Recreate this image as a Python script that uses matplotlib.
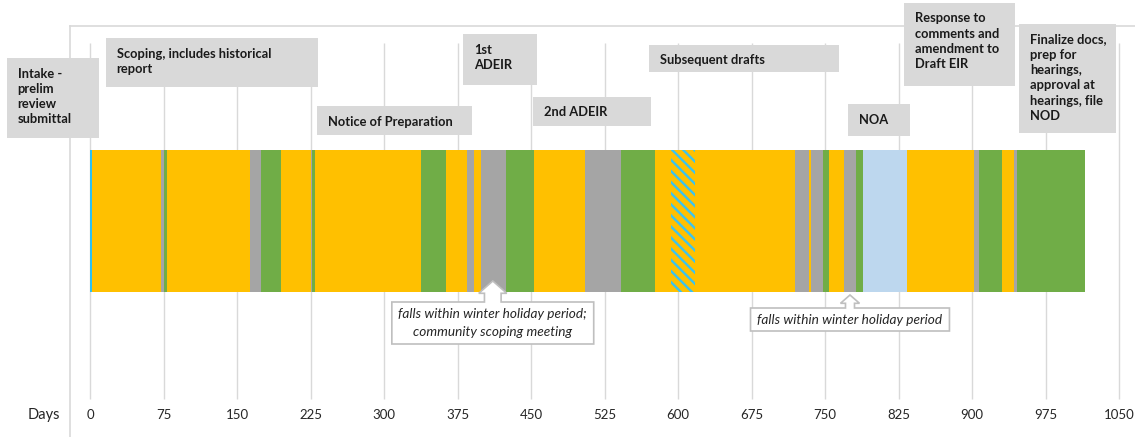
import matplotlib.pyplot as plt
from matplotlib.patches import Rectangle, Polygon

plt.rcParams['font.family'] = ['Lato', 'DejaVu Sans']
plt.rcParams['hatch.linewidth'] = 1.7

# phases of the EIR schedule, left to right, lengths in days
durations = [2, 70, 4, 3, 84, 11, 21, 30, 2, 3, 108, 25, 22, 7, 7, 25, 29, 52,
             37, 35, 16, 24, 102, 15, 2, 12, 6, 15, 13, 7, 45, 68, 5, 24, 12, 3, 69]
kinds = ['submit', 'prep', 'review', 'revise', 'prep', 'review', 'revise', 'prep',
         'review', 'revise', 'prep', 'revise', 'prep', 'review', 'prep', 'review',
         'revise', 'prep', 'review', 'revise', 'prep', 'holiday', 'prep', 'review',
         'prep', 'review', 'revise', 'prep', 'review', 'revise', 'notice', 'prep',
         'review', 'revise', 'prep', 'review', 'revise']
day_ticks = list(range(0, 1051, 75))

# milestone captions: text, left day, right day, top row, bottom row
milestones = [
    ('Intake -\nprelim\nreview\nsubmittal', -85, 9, 58, 138),
    ('Scoping, includes historical\nreport', 16, 233, 38, 87),
    ('Notice of Preparation', 232, 390, 106, 135),
    ('1st\nADEIR', 381, 456, 34, 85),
    ('2nd ADEIR', 452, 572, 97, 126),
    ('Subsequent drafts', 570, 764, 45, 72),
    ('NOA', 773, 837, 104, 136),
    ('Response to\ncomments and\namendment to\nDraft EIR', 831, 944, 3, 86),
    ('Finalize docs,\nprep for\nhearings,\napproval at\nhearings, file\nNOD', 948, 1047, 24, 133),
]

# notes under the bar: text, arrow day, box left, box right, box top, box bottom
notes = [
    ('falls within winter holiday period;\ncommunity scoping meeting', 411, 308, 514, 302, 344),
    ('falls within winter holiday period', 775.5, 674, 877, 308, 331),
]

colors = {'submit': '#2CC1F2', 'prep': '#FFC000', 'review': '#A5A5A5',
          'revise': '#70AD47', 'notice': '#BDD7EE', 'holiday': '#FFC000'}

W, H = 1135, 437
X0, PPD = 90, 0.98   # pixel of day 0, pixels per day

fig = plt.figure(figsize=(W / 100, H / 100), dpi=100)
ax = fig.add_axes([0, 0, 1, 1])
ax.set_xlim(-X0 / PPD, (W - X0) / PPD)
ax.set_ylim(H, 0)
ax.axis('off')

grid = '#D9D9D9'
ax.vlines(day_ticks, 43, 399, color=grid, lw=1, zorder=1)
left = (70 - X0) / PPD
ax.plot([left, left], [26, H], color=grid, lw=1.2, zorder=1)
ax.plot([left, (W - X0) / PPD], [26, 26], color=grid, lw=1.2, zorder=1)

# stacked timeline bar
start = 0
for d, k in zip(durations, kinds):
    if k == 'holiday':
        ax.barh(221, d, left=start, height=141.4, color=colors[k],
                edgecolor='#3CC3EE', hatch='\\\\\\', lw=0, zorder=2)
    else:
        ax.barh(221, d, left=start, height=141.4, color=colors[k], lw=0, zorder=2)
    start += d

for t in day_ticks:
    ax.text(t, 415, str(t), ha='center', va='center', fontsize=9.5, color='#262626')
ax.text(-47, 415, 'Days', ha='center', va='center', fontsize=10.5, color='#262626')

for txt, x0, x1, y0, y1 in milestones:
    ax.add_patch(Rectangle((x0, y0), x1 - x0, y1 - y0, facecolor='#D9D9D9',
                           edgecolor='none', zorder=3))
    ax.text(x0 + 11.2, y0 + 9.5, txt, ha='left', va='top', fontsize=9.3,
            fontweight='bold', color='#1A1A1A', linespacing=1.33, zorder=4)

for i, (txt, cx, x0, x1, y0, y1) in enumerate(notes):
    shaft, head = (8.5, 14.3) if i == 0 else (4.6, 9.7)
    base, tip = (293.3, 281) if i == 0 else (303.3, 295)
    pts = [(x0, y0), (cx - shaft, y0), (cx - shaft, base), (cx - head, base),
           (cx, tip), (cx + head, base), (cx + shaft, base), (cx + shaft, y0),
           (x1, y0), (x1, y1), (x0, y1)]
    ax.add_patch(Polygon(pts, closed=True, facecolor='white', edgecolor='#BFBFBF',
                         lw=1.2, zorder=5))
    ax.text((x0 + x1) / 2, (y0 + y1) / 2 + 0.5, txt, ha='center', va='center',
            fontsize=9.8, style='italic', color='#262626', linespacing=1.6, zorder=6)

fig.savefig('out.png', dpi=100)
